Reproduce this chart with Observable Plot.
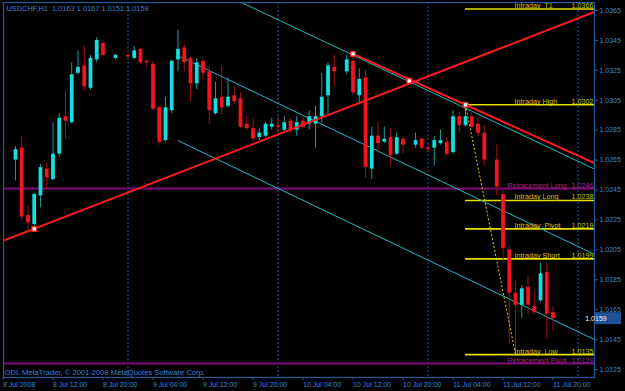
<!DOCTYPE html>
<html>
<head>
<meta charset="utf-8">
<script src="https://cdn.jsdelivr.net/npm/d3@7"></script>
<script src="https://cdn.jsdelivr.net/npm/@observablehq/plot@0.6"></script>
<style>
html, body { margin: 0; padding: 0; background: #000; overflow: hidden; }
#chart svg { display: block; }
#chart svg text { white-space: pre; }
</style>
</head>
<body>
<div id="chart"></div>
<script>
// ---------- texts ----------
const symbolTitle = "USDCHF,H1  1.0163 1.0167 1.0151 1.0159";
const copyright = "ODL MetaTrader, \u00A9 2001-2008 MetaQuotes Software Corp.";

// ---------- hourly candles ----------
const barTimes = [
  "2008-07-08 06:00","2008-07-08 07:00","2008-07-08 08:00","2008-07-08 09:00","2008-07-08 10:00","2008-07-08 11:00",
  "2008-07-08 12:00","2008-07-08 13:00","2008-07-08 14:00","2008-07-08 15:00","2008-07-08 16:00","2008-07-08 17:00",
  "2008-07-08 18:00","2008-07-08 19:00","2008-07-08 20:00","2008-07-08 22:00",
  "2008-07-09 00:00","2008-07-09 01:00","2008-07-09 02:00","2008-07-09 03:00","2008-07-09 04:00","2008-07-09 05:00",
  "2008-07-09 06:00","2008-07-09 07:00","2008-07-09 08:00","2008-07-09 09:00","2008-07-09 10:00","2008-07-09 11:00",
  "2008-07-09 12:00","2008-07-09 13:00","2008-07-09 14:00","2008-07-09 15:00","2008-07-09 16:00","2008-07-09 17:00",
  "2008-07-09 18:00","2008-07-09 19:00","2008-07-09 20:00","2008-07-09 21:00","2008-07-09 22:00","2008-07-09 23:00",
  "2008-07-10 00:00","2008-07-10 01:00","2008-07-10 02:00","2008-07-10 03:00","2008-07-10 04:00","2008-07-10 05:00",
  "2008-07-10 06:00","2008-07-10 07:00","2008-07-10 08:00","2008-07-10 09:00","2008-07-10 11:00",
  "2008-07-10 12:00","2008-07-10 13:00","2008-07-10 14:00","2008-07-10 15:00","2008-07-10 16:00","2008-07-10 17:00",
  "2008-07-10 18:00","2008-07-10 19:00","2008-07-10 20:00","2008-07-10 22:00","2008-07-10 23:00",
  "2008-07-11 00:00","2008-07-11 01:00","2008-07-11 02:00","2008-07-11 03:00","2008-07-11 04:00","2008-07-11 05:00",
  "2008-07-11 06:00","2008-07-11 07:00","2008-07-11 08:00","2008-07-11 09:00","2008-07-11 11:00",
  "2008-07-11 12:00","2008-07-11 13:00","2008-07-11 14:00","2008-07-11 15:00","2008-07-11 16:00","2008-07-11 17:00",
  "2008-07-11 18:00","2008-07-11 19:00","2008-07-11 20:00"
];
const opens = [
  1.0265,1.0273,1.0228,1.0222,1.0241,1.0259,1.0252,1.0269,1.0294,1.0290,1.0323,1.0328,1.0313,1.0332,1.0343,1.0333,
  1.0335,1.0333,1.0339,1.0331,1.0329,1.0300,1.0278,1.0298,1.0332,1.0340,1.0333,1.0316,1.0331,1.0324,1.0296,1.0307,
  1.0301,1.0308,1.0306,1.0289,1.0286,1.0280,1.0281,1.0287,
  1.0288,1.0285,1.0291,1.0285,1.0291,1.0289,1.0289,1.0294,1.0308,1.0327,1.0324,1.0331,1.0308,1.0320,1.0259,1.0281,
  1.0277,1.0280,1.0269,1.0279,1.0275,1.0279,
  1.0273,1.0273,1.0276,1.0277,1.0270,1.0294,1.0288,1.0294,1.0289,1.0283,1.0265,1.0242,1.0205,1.0176,1.0168,1.0180,
  1.0167,1.0171,1.0190,1.0163
];
const highs = [
  1.0274,1.0281,1.0234,1.0243,1.0262,1.0263,1.0290,1.0296,1.0311,1.0330,1.0338,1.0341,1.0335,1.0347,1.0345,1.0336,
  1.0336,1.0341,1.0340,1.0332,1.0331,1.0301,1.0307,1.0332,1.0352,1.0342,1.0334,1.0333,1.0333,1.0328,1.0317,1.0328,
  1.0320,1.0314,1.0310,1.0294,1.0293,1.0286,1.0290,1.0293,
  1.0294,1.0294,1.0293,1.0294,1.0294,1.0298,1.0301,1.0323,1.0330,1.0335,1.0335,1.0336,1.0326,1.0325,1.0287,1.0290,
  1.0287,1.0286,1.0283,1.0281,1.0283,1.0280,
  1.0275,1.0281,1.0285,1.0280,1.0298,1.0297,1.0302,1.0298,1.0293,1.0288,1.0275,1.0245,1.0208,1.0184,1.0181,1.0187,
  1.0178,1.0196,1.0196,1.0167
];
const lows = [
  1.0251,1.0225,1.0218,1.0219,1.0233,1.0245,1.0251,1.0267,1.0279,1.0289,1.0322,1.0311,1.0312,1.0330,1.0334,1.0332,
  1.0333,1.0332,1.0329,1.0327,1.0298,1.0275,1.0277,1.0296,1.0324,1.0324,1.0304,1.0312,1.0318,1.0289,1.0295,1.0295,
  1.0300,1.0302,1.0286,1.0285,1.0277,1.0278,1.0280,1.0285,
  1.0283,1.0283,1.0283,1.0281,1.0286,1.0285,1.0273,1.0290,1.0295,1.0314,1.0322,1.0308,1.0302,1.0253,1.0252,1.0269,
  1.0276,1.0261,1.0268,1.0269,1.0273,1.0272,
  1.0270,1.0261,1.0275,1.0268,1.0269,1.0283,1.0287,1.0286,1.0281,1.0261,1.0241,1.0196,1.0142,1.0135,1.0159,1.0162,
  1.0162,1.0170,1.0146,1.0151
];
const closes = [
  1.0272,1.0227,1.0223,1.0242,1.0260,1.0253,1.0269,1.0293,1.0291,1.0322,1.0327,1.0314,1.0333,1.0345,1.0335,1.0335,
  1.0334,1.0338,1.0330,1.0330,1.0299,1.0277,1.0300,1.0331,1.0339,1.0330,1.0316,1.0330,1.0323,1.0298,1.0306,1.0300,
  1.0307,1.0304,1.0287,1.0286,1.0279,1.0283,1.0289,1.0289,
  1.0287,1.0290,1.0285,1.0290,1.0287,1.0294,1.0294,1.0307,1.0328,1.0324,1.0332,1.0310,1.0319,1.0260,1.0281,1.0276,
  1.0279,1.0268,1.0280,1.0275,1.0278,1.0273,
  1.0272,1.0278,1.0278,1.0269,1.0294,1.0288,1.0294,1.0287,1.0283,1.0265,1.0247,1.0206,1.0176,1.0168,1.0179,1.0168,
  1.0163,1.0189,1.0162,1.0159
];

// ---------- axis ticks ----------
const yTickValues = [1.0125,1.0145,1.0165,1.0185,1.0205,1.0225,1.0245,1.0265,1.0285,1.0305,1.0325,1.0345,1.0365];
const xTickTimes = ["2008-07-08 04:00","2008-07-08 12:00","2008-07-08 20:00","2008-07-09 04:00","2008-07-09 12:00",
  "2008-07-09 20:00","2008-07-10 04:00","2008-07-10 12:00","2008-07-10 20:00","2008-07-11 04:00","2008-07-11 12:00","2008-07-11 20:00"];
const xTickLabels = ["8 Jul 2008","8 Jul 12:00","8 Jul 20:00","9 Jul 04:00","9 Jul 12:00","9 Jul 20:00",
  "10 Jul 04:00","10 Jul 12:00","10 Jul 20:00","11 Jul 04:00","11 Jul 12:00","11 Jul 20:00"];
const daySeparators = ["2008-07-09 00:00","2008-07-10 00:00","2008-07-11 00:00","2008-07-12 00:00"];
const viewStart = "2008-07-08 04:05";
const viewEnd = "2008-07-12 02:38";
const priceTop = 1.037035, priceBottom = 1.011968;

// ---------- levels ----------
const levelNames = ["Intraday  T1","Intraday High","Retracement Long","Intraday Long","Intraday  Pivot","Intraday Short","Intraday  Low","Retracement Pivot"];
const levelValues = [1.0366,1.0302,1.0246,1.0238,1.0219,1.0199,1.0135,1.0129];
const levelKinds = ["intraday","intraday","retracement","intraday","intraday","intraday","intraday","retracement"];
const intradayStart = "2008-07-11 06:00";

// ---------- trend lines ----------
const trendStartTimes = ["2008-07-08 04:00","2008-07-10 12:00","2008-07-09 18:20","2008-07-09 08:24","2008-07-09 08:00","2008-07-11 06:00"];
const trendStartPrices = [1.0211,1.0336,1.0370,1.0334,1.0278,1.0302];
const trendEndTimes = ["2008-07-12 02:38","2008-07-12 02:38","2008-07-12 02:38","2008-07-12 02:38","2008-07-12 02:38","2008-07-11 14:00"];
const trendEndPrices = [1.0364,1.0263,1.0259,1.0202,1.0145,1.0135];
const trendKinds = ["red","red","cyan","cyan","cyan","dash"];

const anchorTimes = ["2008-07-08 09:00","2008-07-10 12:00","2008-07-10 21:00","2008-07-11 06:00"];
const anchorPrices = [1.0219,1.0336,1.0318,1.0302];

const lastPrice = 1.0159;

// ---------- colours ----------
const axisColor = "#1f5c9e";
const textBlue = "#3a86d6";
const bullBody = "#17dede", bearBody = "#f2141e";
const bullWick = "#1f9a9c", bearWick = "#a3101a";

// ---------- build ----------
const parseTime = d3.utcParse("%Y-%m-%d %H:%M");
const bars = barTimes.map((t, i) => ({t: parseTime(t), o: opens[i], h: highs[i], l: lows[i], c: closes[i]}));
const bull = bars.filter(d => d.c >= d.o);
const bear = bars.filter(d => d.c < d.o);
const levels = levelNames.map((n, i) => ({name: n, v: levelValues[i], kind: levelKinds[i], label: levelValues[i].toFixed(4)}));
const trends = trendKinds.map((k, i) => ({kind: k, t1: parseTime(trendStartTimes[i]), p1: trendStartPrices[i], t2: parseTime(trendEndTimes[i]), p2: trendEndPrices[i]}));
const anchors = anchorTimes.map((t, i) => ({t: parseTime(t), p: anchorPrices[i]}));
const xTicks = xTickTimes.map(parseTime);
const tickLabelMap = new Map(xTicks.map((d, i) => [+d, xTickLabels[i]]));
const xEnd = parseTime(viewEnd);

const chart = Plot.plot({
  width: 625, height: 391,
  marginLeft: 3, marginRight: 31, marginTop: 2, marginBottom: 14,
  style: {background: "#000", fontFamily: "Liberation Sans", fontSize: "7px", color: textBlue},
  x: {type: "utc", domain: [parseTime(viewStart), xEnd], axis: null},
  y: {domain: [priceBottom, priceTop], axis: null},
  marks: [
    Plot.ruleX(daySeparators.map(parseTime), {stroke: axisColor, strokeDasharray: "2,2", strokeWidth: 1}),
    Plot.ruleY(levels.filter(d => d.kind === "retracement"), {y: "v", stroke: "#82087f", strokeWidth: 2}),
    Plot.ruleY(levels.filter(d => d.kind === "intraday"), {y: "v", x1: () => parseTime(intradayStart), x2: () => xEnd, stroke: "#e6e000", strokeWidth: 1.6}),
    Plot.link(trends.filter(d => d.kind === "cyan"), {x1: "t1", y1: "p1", x2: "t2", y2: "p2", stroke: "#25b6c0", strokeWidth: 1, clip: true}),
    Plot.ruleX(bull, {x: "t", y1: "l", y2: "h", stroke: bullWick, strokeWidth: 1}),
    Plot.ruleX(bear, {x: "t", y1: "l", y2: "h", stroke: bearWick, strokeWidth: 1}),
    Plot.ruleX(bull, {x: "t", y1: "o", y2: "c", stroke: bullBody, strokeWidth: 3.8}),
    Plot.ruleX(bear, {x: "t", y1: "o", y2: "c", stroke: bearBody, strokeWidth: 3.8}),
    Plot.link(trends.filter(d => d.kind === "red"), {x1: "t1", y1: "p1", x2: "t2", y2: "p2", stroke: "#ff1c1c", strokeWidth: 2, clip: true}),
    Plot.link(trends.filter(d => d.kind === "dash"), {x1: "t1", y1: "p1", x2: "t2", y2: "p2", stroke: "#e2d400", strokeWidth: 1, strokeDasharray: "2,2"}),
    Plot.dot(anchors, {x: "t", y: "p", symbol: "square", r: 2.6, fill: "#ffffff", stroke: "#ff1c1c", strokeWidth: 1.3}),
    Plot.text(levels.filter(d => d.kind === "intraday"), {y: "v", text: "name", frameAnchor: "right", textAnchor: "start", lineAnchor: "bottom", dx: -80, dy: -1, fill: "#c9c600", fontSize: 7.2}),
    Plot.text(levels.filter(d => d.kind === "retracement"), {y: "v", text: "name", frameAnchor: "right", textAnchor: "start", lineAnchor: "bottom", dx: -87, dy: -1, fill: "#9a2e98", fontSize: 7.2}),
    Plot.text(levels.filter(d => d.kind === "intraday"), {y: "v", text: "label", frameAnchor: "right", textAnchor: "end", lineAnchor: "bottom", dx: -1, dy: -1, fill: "#c9c600", fontSize: 7.2}),
    Plot.text(levels.filter(d => d.kind === "retracement"), {y: "v", text: "label", frameAnchor: "right", textAnchor: "end", lineAnchor: "bottom", dx: -1, dy: -1, fill: "#9a2e98", fontSize: 7.2}),
    Plot.text([symbolTitle], {frameAnchor: "top-left", textAnchor: "start", lineAnchor: "top", dx: 3, dy: 3, fill: textBlue, fontSize: 7.4}),
    Plot.text([copyright], {frameAnchor: "bottom-left", textAnchor: "start", lineAnchor: "bottom", dx: 1, dy: -3, fill: textBlue, fontSize: 7.6}),
    Plot.frame({stroke: axisColor, strokeWidth: 1.2}),
    Plot.axisY(yTickValues, {anchor: "right", tickSize: 3, tickPadding: 2, tickFormat: d => d.toFixed(4), stroke: axisColor, fill: textBlue, label: null}),
    Plot.axisX(xTicks, {anchor: "bottom", tickSize: 3, tickPadding: 1.5, textAnchor: "start", tickFormat: d => tickLabelMap.get(+d), stroke: axisColor, fill: textBlue, label: null})
  ]
});

// current price marker on the price scale
const yPos = chart.scale("y").apply(lastPrice);
const svg = d3.select(chart);
const box = svg.append("g");
box.append("rect").attr("x", 625 - 31).attr("y", yPos - 6).attr("width", 27).attr("height", 12).attr("fill", "#1d5296");
box.append("text").attr("x", 625 - 29).attr("y", yPos).attr("dy", "0.35em")
  .attr("fill", "#e6f2ff").attr("font-size", 7).attr("font-family", "Liberation Sans").text(lastPrice.toFixed(4));

document.getElementById("chart").appendChild(chart);
</script>
</body>
</html>
